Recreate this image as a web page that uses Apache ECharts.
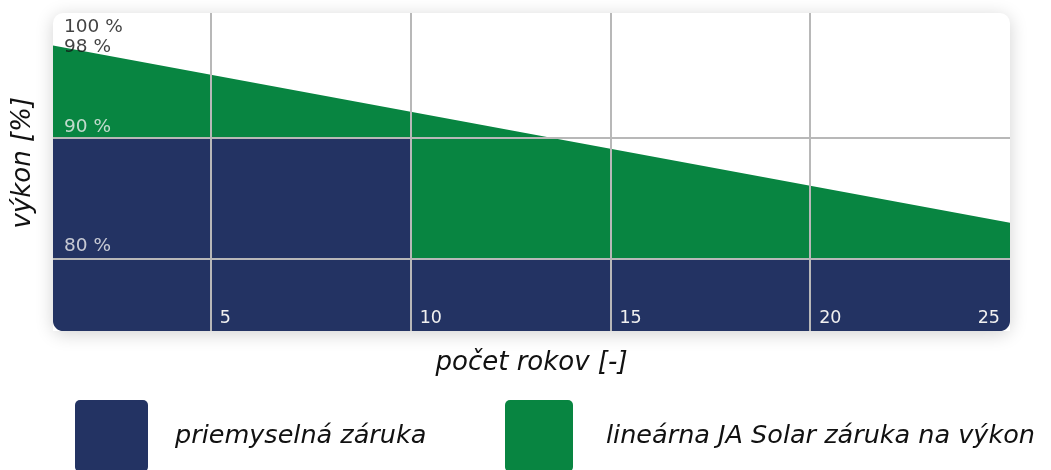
<!DOCTYPE html>
<html>
<head>
<meta charset="utf-8">
<script src="https://cdn.jsdelivr.net/npm/echarts@6/dist/echarts.min.js"></script>
<style>
  html, body { margin: 0; padding: 0; background: #fff; }
  #chart { width: 1051px; height: 470px; }
</style>
</head>
<body>
<div id="chart"></div>
<script>
'use strict';

// roky a hodnoty odčítané z grafu
const seriesNames = ['priemyselná záruka', 'lineárna JA Solar záruka na výkon'];
const stepYears = [1, 10, 10, 25];
const stepValues = [90, 90, 80, 80];
const linYears = [1, 25];
const linValues = [97.7, 83.0];
const xTicks = [5, 10, 15, 20, 25];
const xGridLines = [5, 10, 15, 20];
const yGridLines = [90, 80];
const yTicks = [100, 98, 90, 80];
const yTickLabels = ['100 %', '98 %', '90 %', '80 %'];

const BLUE = '#233363';
const GREEN = '#088541';
const FONT = '"DejaVu Sans", sans-serif';
const DARK = '#111';
const LIGHT = '#f0f0f0';

const X_MIN = 1.05, X_MAX = 25;
const Y_MIN = 74.05, Y_MAX = 100.35;

const pairs = (xs, ys) => xs.map((x, i) => [x, ys[i]]);

// biely roh - maska mimo štvrťkruhu
function cornerMask(cx, cy, r, ox, oy, a0) {
    const pts = [[ox, oy]];
    for (let k = 0; k <= 12; k++) {
        const a = a0 + k * Math.PI / 24;
        pts.push([cx + r * Math.cos(a), cy + r * Math.sin(a)]);
    }
    return {
        type: 'polygon', z: 100, silent: true,
        shape: { points: pts },
        style: { fill: '#fff' }
    };
}

// ikona legendy - štvorec s malým zaoblením
function boxIcon(w, h, r) {
    return 'path://M' + r + ',0H' + (w - r) + 'A' + r + ',' + r + ' 0 0 1 ' + w + ',' + r +
        'V' + (h - r) + 'A' + r + ',' + r + ' 0 0 1 ' + (w - r) + ',' + h +
        'H' + r + 'A' + r + ',' + r + ' 0 0 1 0,' + (h - r) +
        'V' + r + 'A' + r + ',' + r + ' 0 0 1 ' + r + ',0Z';
}

function legendFor(name, left, w, textPad) {
    return {
        left: left, top: 400, padding: 0,
        itemWidth: w, itemHeight: 72,
        icon: boxIcon(w, 72, 5),
        data: [name],
        selectedMode: false,
        textStyle: { fontFamily: FONT, fontStyle: 'italic', fontSize: 25.5, color: DARK, padding: [6, 0, 0, textPad] }
    };
}

// popisky osi Y vnútri grafu
const labelOffsets = { 100: 10, 98: 6, 90: -11, 80: -13 };
const yLabelData = yTicks.map((v, i) => ({
    value: [X_MIN, v],
    label: {
        formatter: yTickLabels[i],
        color: v >= 98 ? DARK : LIGHT,
        offset: [11, labelOffsets[v]]
    }
}));

const gridLineData = xGridLines.map(v => ({ xAxis: v }))
    .concat(yGridLines.map(v => ({ yAxis: v })));

var myChart = echarts.init(document.getElementById('chart'));

myChart.setOption({
    animation: false,
    backgroundColor: '#fff',
    grid: { left: 53, right: 41, top: 13, bottom: 139 },
    xAxis: {
        type: 'value', min: X_MIN, max: X_MAX, z: 10,
        name: 'počet rokov [-]', nameLocation: 'middle', nameGap: 19,
        nameTextStyle: { fontFamily: FONT, fontStyle: 'italic', fontSize: 26, color: DARK },
        axisLine: { show: false }, axisTick: { show: false }, splitLine: { show: false },
        axisLabel: {
            inside: true, customValues: xTicks, margin: 4,
            align: 'left', alignMaxLabel: 'right',
            padding: [0, 10, 0, 9],
            color: LIGHT, fontFamily: FONT, fontSize: 17.5
        }
    },
    yAxis: {
        type: 'value', min: Y_MIN, max: Y_MAX,
        axisLine: { show: false }, axisTick: { show: false }, splitLine: { show: false },
        axisLabel: { show: false }
    },
    legend: [
        legendFor(seriesNames[0], 75, 73, 22),
        legendFor(seriesNames[1], 505, 68, 28)
    ],
    graphic: [
        {   // karta s tieňom
            type: 'rect', z: -10, silent: true,
            shape: { x: 53, y: 13, width: 957, height: 318, r: 10 },
            style: { fill: '#fff', shadowBlur: 18, shadowColor: 'rgba(0,0,0,0.18)', shadowOffsetY: 3 }
        },
        cornerMask(63, 321, 10, 53, 331, Math.PI / 2),
        cornerMask(1000, 321, 10, 1010, 331, 0),
        {
            type: 'text', left: 10, top: 97, rotation: Math.PI / 2,
            style: { text: 'výkon [%]', fontFamily: FONT, fontStyle: 'italic', fontSize: 26, fill: DARK }
        }
    ],
    series: [
        {
            name: seriesNames[1], type: 'line', z: 2,
            data: pairs(linYears, linValues),
            symbol: 'none',
            lineStyle: { width: 0, color: GREEN },
            itemStyle: { color: GREEN },
            areaStyle: { color: GREEN, opacity: 1, origin: 'start' }
        },
        {
            name: seriesNames[0], type: 'line', z: 3,
            data: pairs(stepYears, stepValues),
            symbol: 'none',
            lineStyle: { width: 0, color: BLUE },
            itemStyle: { color: BLUE },
            areaStyle: { color: BLUE, opacity: 1, origin: 'start' },
            markLine: {
                silent: true, symbol: 'none', z: 5,
                label: { show: false },
                lineStyle: { color: '#b8b8b8', width: 2, type: 'solid' },
                data: gridLineData
            }
        },
        {
            type: 'scatter', z: 6, silent: true,
            symbolSize: 0,
            data: yLabelData,
            label: { show: true, position: 'right', distance: 0, fontFamily: FONT, fontSize: 18.5 }
        }
    ]
});
</script>
</body>
</html>
